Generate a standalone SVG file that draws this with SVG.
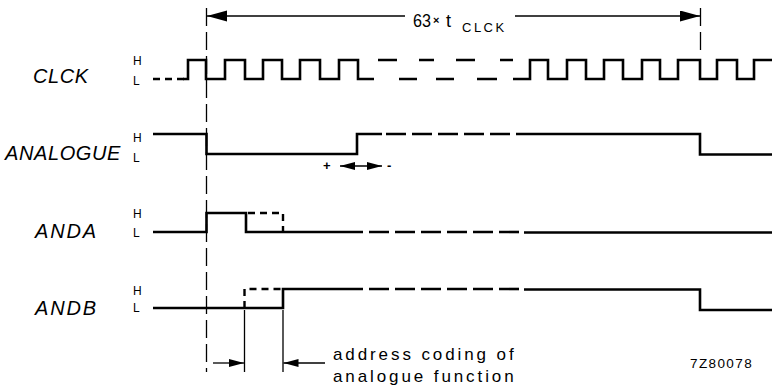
<svg xmlns="http://www.w3.org/2000/svg" width="772" height="390" viewBox="0 0 772 390">
<style>
.w{fill:none;stroke:#000;stroke-width:2.6;stroke-linejoin:miter;stroke-linecap:butt}
.wd{fill:none;stroke:#000;stroke-width:2.6;stroke-dasharray:20 6}
.wdd{fill:none;stroke:#000;stroke-width:2.4;stroke-dasharray:7 5}
.thin{fill:none;stroke:#000;stroke-width:1.3}
.vd{fill:none;stroke:#000;stroke-width:1.3;stroke-dasharray:18 6}
.lab{font-family:"Liberation Sans",Arial,sans-serif;font-style:italic;font-size:20px;letter-spacing:0.6px;fill:#000}
.hl{font-family:"Liberation Sans",Arial,sans-serif;font-size:12px;fill:#000}
.txt{font-family:"Liberation Sans",Arial,sans-serif;font-size:17px;letter-spacing:2.9px;fill:#000}
</style>
<defs>
<marker id="ah" markerUnits="userSpaceOnUse" markerWidth="22" markerHeight="12" refX="20" refY="5.5" orient="auto">
<path d="M0,0 L20,5.5 L0,11 Z" fill="#000"/>
</marker>
<marker id="ahm" markerUnits="userSpaceOnUse" markerWidth="16" markerHeight="10" refX="15" refY="4" orient="auto">
<path d="M0,0 L15,4 L0,8 Z" fill="#000"/>
</marker>
<marker id="ahd" markerUnits="userSpaceOnUse" markerWidth="16" markerHeight="10" refX="15" refY="4" orient="auto-start-reverse">
<path d="M0,0 L15,4 L0,8 Z" fill="#000"/>
</marker>
</defs>

<g id="connectors">
<path class="vd" d="M206.5,8 V372"/>
<path class="vd" d="M700.5,8 V56"/>
<path class="thin" d="M244.5,310 V372 M283,310 V372"/>
<path class="thin" d="M405,16 H207" marker-end="url(#ah)"/>
<path class="thin" d="M515,16 H700" marker-end="url(#ah)"/>
<path class="thin" d="M213,363 H244" marker-end="url(#ahm)"/>
<path class="thin" d="M325,363 H283.5" marker-end="url(#ahm)"/>
<path class="thin" d="M340,166 H382" marker-start="url(#ahd)" marker-end="url(#ahd)"/>
</g>

<g id="clck">
<text class="lab" x="33" y="83">CLCK</text>
<text class="hl" x="133" y="65">H</text>
<text class="hl" x="133" y="85">L</text>
<path class="wdd" d="M153,79 H186"/>
<path class="w" d="M183,79 H188 V60 H206 V79 H225 V60 H245 V79 H263 V60 H282 V79 H300 V60 H320 V79 H339 V60 H358 V79 H374"/>
<path class="w" d="M378,60 H397 M399,79 H417 M419,60 H434 M436,79 H454 M456,60 H475 M477,79 H497 M500,60 H513"/>
<path class="w" d="M513,79 H530 V60 H548 V79 H567 V60 H586 V79 H604 V60 H623 V79 H642 V60 H660 V79 H678 V60 H700 V79 H717 V60 H737 V79 H754 V60 H772"/>
</g>

<g id="analogue">
<text class="lab" x="5" y="160">ANALOGUE</text>
<text class="hl" x="133" y="142">H</text>
<text class="hl" x="133" y="162">L</text>
<path class="w" d="M153,134 H206.5 V154 H357 V134 H382"/>
<path class="wd" d="M386,134 H524"/>
<path class="w" d="M524,134 H700 V154.5 H772"/>
<text class="hl" x="323" y="170" style="font-size:13px;font-weight:bold">+</text>
<text class="hl" x="387" y="170" style="font-size:13px;font-weight:bold">-</text>
</g>

<g id="anda">
<text class="lab" x="35" y="238" style="letter-spacing:1.8px">ANDA</text>
<text class="hl" x="133" y="218">H</text>
<text class="hl" x="133" y="237">L</text>
<path class="w" d="M153,232 H206.5 V213 H246 V232 H363"/>
<path class="wd" d="M369,232 H524"/>
<path class="w" d="M524,232.5 H772"/>
<path class="wdd" d="M248,213 H283 V232"/>
</g>

<g id="andb">
<text class="lab" x="35" y="315" style="letter-spacing:1.8px">ANDB</text>
<text class="hl" x="133" y="295">H</text>
<text class="hl" x="133" y="312">L</text>
<path class="w" d="M153,308 H283 V289 H363"/>
<path class="wd" d="M369,289 H524"/>
<path class="w" d="M524,289.5 H700 V310 H772"/>
<path class="wdd" d="M244.5,308 V289 H281"/>
</g>

<g id="labels">
<text x="413" y="27" style="font-family:'Liberation Sans',Arial,sans-serif;font-size:18px" textLength="18" lengthAdjust="spacingAndGlyphs">63</text>
<text x="433" y="24" style="font-family:'Liberation Sans',Arial,sans-serif;font-size:11px;font-weight:bold">×</text>
<text x="446" y="27" style="font-family:'Liberation Sans',Arial,sans-serif;font-size:18px">t</text>
<text x="462" y="32" style="font-family:'Liberation Sans',Arial,sans-serif;font-size:13px;letter-spacing:2.5px">CLCK</text>
<text class="txt" x="333" y="360">address coding of</text>
<text class="txt" x="333" y="382">analogue function</text>
<text x="690" y="368" style="font-family:'Liberation Sans',Arial,sans-serif;font-size:13.5px;letter-spacing:1.4px">7Z80078</text>
</g>
</svg>
